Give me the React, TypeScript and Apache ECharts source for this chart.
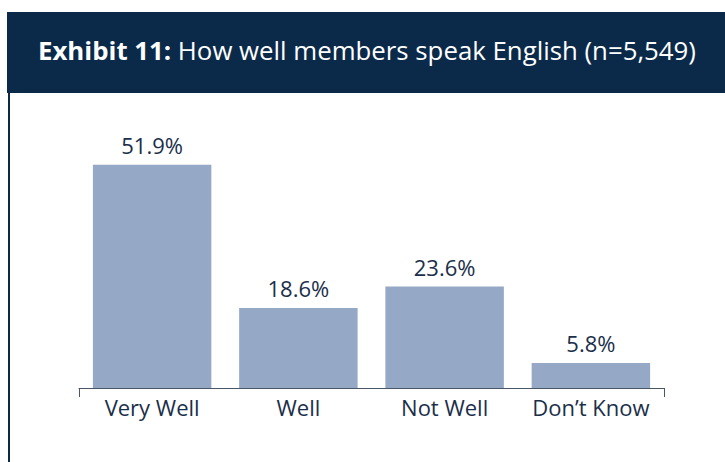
import React, { useEffect, useRef } from "react";
import * as echarts from "echarts";

const categories = ["Very Well", "Well", "Not Well", "Don\u2019t Know"];
const values = [51.9, 18.6, 23.6, 5.8];
const titleBold = "Exhibit 11:";
const titleRest = " How well members speak English (n=5,549)";

const NAVY = "#0b2a4a";
const TEXT = "#1b2f4a";
const BAR = "#95a8c6";
const FONT = "Open Sans";

export default function App() {
  const ref = useRef<HTMLDivElement>(null);
  useEffect(() => {
    const chart = echarts.init(ref.current!, null, { renderer: "svg" });
    chart.setOption({
      animation: false,
      backgroundColor: "#ffffff",
      grid: { left: 79, right: 61, top: 130, bottom: 74 },
      xAxis: {
        type: "category",
        data: categories,
        axisLine: { show: true, lineStyle: { color: "#4a5566", width: 1 } },
        axisTick: {
          show: true,
          length: 9,
          interval: (i: number) => i === 0,
          lineStyle: { color: "#4a5566", width: 1 },
        },
        axisLabel: {
          interval: 0,
          hideOverlap: false,
          color: TEXT,
          fontFamily: FONT,
          fontSize: 22,
          margin: 8,
        },
      },
      yAxis: { type: "value", min: 0, max: 60, show: false, splitLine: { show: false } },
      series: [
        {
          type: "bar",
          data: values,
          barCategoryGap: "19%",
          itemStyle: { color: BAR },
          label: {
            show: true,
            position: "top",
            distance: 9,
            color: TEXT,
            fontFamily: FONT,
            fontSize: 22,
            formatter: (p: any) => p.value.toFixed(1) + "%",
          },
        },
      ],
      graphic: [
        { type: "rect", left: 7, top: 12, shape: { width: 718, height: 81 }, style: { fill: NAVY }, silent: true },
        { type: "rect", left: 8, top: 93, shape: { width: 2, height: 369 }, style: { fill: NAVY }, silent: true },
        {
          type: "text",
          left: 38,
          top: 37,
          style: {
            text: "{b|" + titleBold + "}{r|" + titleRest + "}",
            rich: {
              b: { fill: "#ffffff", fontFamily: FONT, fontWeight: "bold", fontSize: 25.8 },
              r: { fill: "#ffffff", fontFamily: FONT, fontSize: 25.8 },
            },
          },
        },
      ],
    });
    return () => chart.dispose();
  }, []);
  return <div ref={ref} style={{ position: "fixed", left: 0, top: 0, width: 725, height: 462 }} />;
}
